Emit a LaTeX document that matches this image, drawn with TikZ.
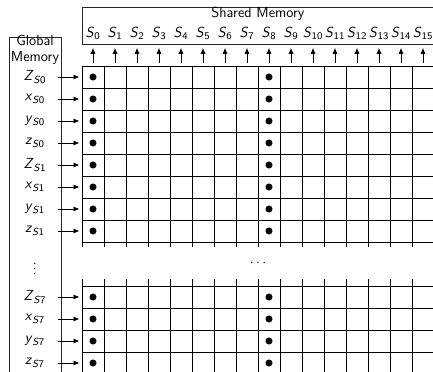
\documentclass[tikz,border=0pt]{standalone}
\usetikzlibrary{arrows.meta, positioning}
\renewcommand{\familydefault}{\sfdefault}
\newcommand{\memvar}[2]{\textit{#1}\textsubscript{#2}}
\tikzset{
  membox/.style={draw=black!85, line width=0.6pt},
  gridline/.style={line width=0.65pt},
  datadot/.style={circle, fill=black, inner sep=0pt, minimum size=5.5pt},
  collabel/.style={inner sep=1pt},
  rowlabel/.style={inner sep=1pt},
  arrow/.style={-{Latex[length=4.5pt,width=4pt]}, line width=0.6pt}
}

\begin{document}
\begin{tikzpicture}[x=0.6cm, y=0.6cm, font=\sffamily\fontsize{11.3}{12.6}\selectfont]
  \useasboundingbox (-3.727,-13.864) rectangle (15.955,3.0);
  \draw[membox] (16.5,1) -- (0,1) -- (0,2.68) -- (16.5,2.68);
  \node (shared) at (8,2.36) {Shared Memory};
  \draw[membox] (-3.32,-14.5) -- (-3.32,1.32) -- (-0.95,1.32) -- (-0.95,-14.5);
  \node[align=center, inner sep=0pt] (global) at (-2.135,0.74) {Global\\Memory};
  \foreach \i in {0,...,15} {
    \node[collabel] (s\i) at (\i+.5,1.5) {\memvar{S}{\i}};
    \coordinate (up\i) at (\i+.5,0.15);
    \coordinate (tip\i) at (\i+.5,0.82);
    \draw[arrow] (up\i) -- (tip\i);
  }
  \foreach \r in {0,...,8}
    \draw[gridline] (0,-\r) -- (16.5,-\r);
  \foreach \c in {0,...,16}
    \draw[gridline] (\c,0) -- (\c,-8.25);
  \foreach \r in {10,...,14}
    \draw[gridline] (0,-\r) -- (16.5,-\r);
  \foreach \c in {0,...,16}
    \draw[gridline] (\c,-9.68) -- (\c,-14.5);
  \foreach \v/\k/\y in {Z/0/-0.5, x/0/-1.5, y/0/-2.5, z/0/-3.5,
                        Z/1/-4.5, x/1/-5.5, y/1/-6.5, z/1/-7.5,
                        Z/7/-10.5, x/7/-11.5, y/7/-12.5, z/7/-13.5} {
    \node[rowlabel] (g\v\k) at (-2.14,\y) {\memvar{\v}{\textit{S}\k}};
    \coordinate (from\v\k) at (-1.09,\y);
    \coordinate (to\v\k) at (-0.12,\y);
    \draw[arrow] (from\v\k) -- (to\v\k);
    \node[datadot] (a\v\k) at (0.5,\y) {};
    \node[datadot] (b\v\k) at (8.5,\y) {};
  }
  \node (hdots) at (8,-8.98) {$\cdots$};
  \node (vdots) at (-2.14,-9.05) {$\vdots$};
\end{tikzpicture}
\end{document}
